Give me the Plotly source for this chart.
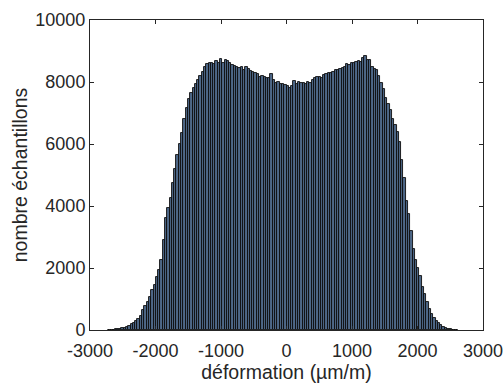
import plotly.graph_objects as go

# Histogram data (bin width 35 µm/m, first bin edge -2730)
bin_start = -2730
bin_width = 35
counts = [
    5, 8, 12, 18, 28, 40, 55, 75, 100, 140, 180, 230, 290, 360, 450, 650,
    780, 900, 1070, 1300, 1450, 1710, 1950, 2250, 2900, 3600,
    3950, 4250, 4750, 5200, 5650, 6000, 6350, 6800, 7150, 7450, 7650, 7800, 7950, 8080,
    8200, 8330, 8480, 8580, 8600, 8620, 8590, 8690, 8600, 8740, 8620, 8700, 8680, 8600,
    8550, 8520, 8500, 8450, 8470, 8400, 8480, 8430, 8350, 8320, 8300, 8250, 8160, 8200,
    8150, 8130, 8120, 8260, 8050, 7970, 7990, 7950, 7940, 7900,
    7860, 7800, 7880, 8030, 7950, 7990, 7960, 7970, 7920, 8000, 7980, 8080, 8120, 8150,
    8160, 8140, 8220, 8250, 8290, 8300, 8320, 8380, 8400, 8420, 8450, 8500, 8580, 8560,
    8610, 8600, 8650, 8680, 8640, 8760, 8840, 8720, 8710,
    8480, 8420, 8390, 8200, 7980, 7760, 7480, 7300, 7100, 6800, 6600, 6390, 6050, 5500,
    4900, 4150, 3750, 3200, 2600, 2250, 2000, 1750, 1400, 1150, 900, 680, 520, 400,
    280, 230, 170, 100, 60, 35, 20, 12, 6, 3,
]
x_ticks = [-3000, -2000, -1000, 0, 1000, 2000, 3000]
x_tick_labels = ["-3000", "-2000", "-1000", "0", "1000", "2000", "3000"]
y_ticks = [0, 2000, 4000, 6000, 8000, 10000]
y_tick_labels = ["0", "2000", "4000", "6000", "8000", "10000"]
x_label = "déformation (µm/m)"
y_label = "nombre échantillons"

centres = [bin_start + bin_width * (i + 0.5) for i in range(len(counts))]

fig = go.Figure(
    go.Bar(
        x=centres,
        y=counts,
        width=bin_width,
        marker=dict(color="#4e6888", line=dict(color="#0d0d0d", width=0.9)),
        hoverinfo="skip",
    )
)

axis_color = "#262626"
common = dict(
    showgrid=False,
    zeroline=False,
    showline=True,
    linecolor=axis_color,
    linewidth=1,
    mirror="ticks",
    ticks="inside",
    ticklen=4,
    tickwidth=1,
    tickcolor=axis_color,
    tickfont=dict(size=18, color=axis_color),
    automargin=False,
)

fig.update_layout(
    width=504,
    height=385,
    margin=dict(l=90, r=21, t=20, b=55),
    paper_bgcolor="white",
    plot_bgcolor="white",
    font=dict(family="Arial, Liberation Sans, sans-serif", color=axis_color),
    bargap=0,
    showlegend=False,
    xaxis=dict(
        range=[-3000, 3000],
        tickvals=x_ticks,
        ticktext=x_tick_labels,
        ticklabelstandoff=4,
        title=dict(text=x_label, font=dict(size=19.5), standoff=4),
        **common,
    ),
    yaxis=dict(
        range=[0, 10000],
        tickvals=y_ticks,
        ticktext=y_tick_labels,
        title=dict(text=y_label, font=dict(size=19.5), standoff=2),
        **common,
    ),
)

fig.write_html(
    "out.html",
    config={"displayModeBar": False},
    post_script="document.body.style.margin='0';",
)
